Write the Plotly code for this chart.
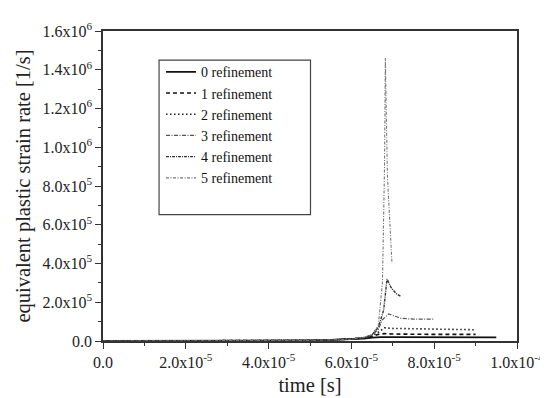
import plotly.graph_objects as go

# ---- data ----
names = ["0 refinement", "1 refinement", "2 refinement", "3 refinement", "4 refinement", "5 refinement"]

t0 = [0.0, 4.0e-5, 4.5e-5, 5.0e-5, 5.5e-5, 6.0e-5, 6.3e-5, 6.5e-5, 6.7e-5, 7.0e-5, 8.0e-5, 9.0e-5, 9.5e-5]
v0 = [0.0, 0.0, 1.0e3, 3.0e3, 5.5e3, 9.0e3, 1.3e4, 1.7e4, 2.0e4, 2.0e4, 1.9e4, 1.9e4, 1.9e4]

t1 = [0.0, 4.0e-5, 4.5e-5, 5.0e-5, 5.5e-5, 6.0e-5, 6.3e-5, 6.5e-5, 6.65e-5, 6.8e-5, 7.0e-5, 8.0e-5, 9.0e-5]
v1 = [0.0, 0.0, 1.0e3, 3.0e3, 5.5e3, 9.5e3, 1.5e4, 2.4e4, 3.4e4, 3.8e4, 3.6e4, 3.4e4, 3.4e4]

t2 = [0.0, 4.0e-5, 4.5e-5, 5.0e-5, 5.5e-5, 6.0e-5, 6.3e-5, 6.5e-5, 6.65e-5, 6.8e-5, 7.0e-5, 8.0e-5, 9.0e-5]
v2 = [0.0, 0.0, 1.0e3, 3.0e3, 5.5e3, 9.5e3, 1.6e4, 2.6e4, 4.5e4, 6.8e4, 6.5e4, 6.0e4, 5.8e4]

t3 = [0.0, 4.0e-5, 4.5e-5, 5.0e-5, 5.5e-5, 6.0e-5, 6.3e-5, 6.5e-5, 6.65e-5, 6.75e-5, 6.9e-5, 7.05e-5, 7.2e-5, 7.5e-5, 8.0e-5]
v3 = [0.0, 0.0, 1.0e3, 3.0e3, 6.0e3, 1.0e4, 1.7e4, 3.0e4, 6.0e4, 1.1e5, 1.4e5, 1.3e5, 1.17e5, 1.13e5, 1.13e5]

t4 = [0.0, 4.0e-5, 4.5e-5, 5.0e-5, 5.5e-5, 6.0e-5, 6.3e-5, 6.5e-5, 6.65e-5, 6.78e-5, 6.86e-5, 6.96e-5, 7.08e-5, 7.2e-5]
v4 = [0.0, 0.0, 1.0e3, 3.0e3, 6.0e3, 1.0e4, 1.8e4, 3.2e4, 7.0e4, 1.6e5, 3.2e5, 2.75e5, 2.45e5, 2.3e5]

t5 = [0.0, 4.0e-5, 4.5e-5, 5.0e-5, 5.5e-5, 6.0e-5, 6.3e-5, 6.5e-5, 6.65e-5, 6.75e-5, 6.8e-5, 6.82e-5, 6.87e-5, 6.91e-5, 6.98e-5]
v5 = [0.0, 0.0, 1.0e3, 3.0e3, 6.0e3, 1.0e4, 1.8e4, 3.3e4, 8.0e4, 3.0e5, 9.0e5, 1.46e6, 8.5e5, 6.8e5, 4.0e5]

x_tickvals = [0.0, 2.0e-5, 4.0e-5, 6.0e-5, 8.0e-5, 1.0e-4]
x_ticktext = ["0.0", "2.0x10<sup>-5</sup>", "4.0x10<sup>-5</sup>", "6.0x10<sup>-5</sup>",
              "8.0x10<sup>-5</sup>", "1.0x10<sup>-4</sup>"]
y_tickvals = [0.0, 2.0e5, 4.0e5, 6.0e5, 8.0e5, 1.0e6, 1.2e6, 1.4e6, 1.6e6]
y_ticktext = ["0.0", "2.0x10<sup>5</sup>", "4.0x10<sup>5</sup>", "6.0x10<sup>5</sup>", "8.0x10<sup>5</sup>",
              "1.0x10<sup>6</sup>", "1.2x10<sup>6</sup>", "1.4x10<sup>6</sup>", "1.6x10<sup>6</sup>"]
x_minor = [1.0e-5, 3.0e-5, 5.0e-5, 7.0e-5, 9.0e-5]
y_minor = [1.0e5, 3.0e5, 5.0e5, 7.0e5, 9.0e5, 1.1e6, 1.3e6, 1.5e6]

series_t = [t0, t1, t2, t3, t4, t5]
series_v = [v0, v1, v2, v3, v4, v5]

styles = [
    dict(color="#111111", width=1.8, dash="solid"),
    dict(color="#111111", width=1.6, dash="4px,3px"),
    dict(color="#222222", width=1.6, dash="1.5px,2.5px"),
    dict(color="#555555", width=1.2, dash="4px,1.5px,1px,1.5px"),
    dict(color="#333333", width=1.4, dash="3px,1px,1px,1px"),
    dict(color="#777777", width=1.1, dash="3px,1.5px,1px,1.5px"),
]

FONT = "Liberation Serif, Times New Roman, serif"

fig = go.Figure()
for n, tt, vv, st in zip(names, series_t, series_v, styles):
    fig.add_trace(go.Scatter(x=tt, y=vv, mode="lines", name=n, line=st))

L, R, T, B = 95, 32, 14, 65
W, H = 548, 398
pw, ph = W - L - R, H - T - B

def px_x(p):
    return (p - L) / pw

def px_y(p):
    return (H - B - p) / ph

fig.update_layout(
    width=W, height=H,
    margin=dict(l=L, r=R, t=T, b=B),
    paper_bgcolor="white", plot_bgcolor="white",
    font=dict(family=FONT, size=16, color="#222222"),
    showlegend=True,
    legend=dict(
        x=px_x(154), y=px_y(40), xanchor="left", yanchor="top",
        bgcolor="rgba(0,0,0,0)", borderwidth=0,
        font=dict(family=FONT, size=14, color="#111111"),
        tracegroupgap=0, itemwidth=30,
    ),
    shapes=[dict(type="rect", xref="paper", yref="paper",
                 x0=px_x(152), x1=px_x(306), y0=px_y(203), y1=px_y(44),
                 line=dict(color="#444444", width=1.2), fillcolor="rgba(0,0,0,0)")],
)

fig.update_xaxes(
    range=[0, 1.0e-4], tickmode="array", tickvals=x_tickvals, ticktext=x_ticktext,
    showgrid=False, zeroline=False, showline=True, linecolor="#333333", linewidth=1.5,
    mirror=True, ticks="outside", ticklen=6, tickwidth=1.3, tickcolor="#333333",
    minor=dict(tickvals=x_minor, ticks="outside", ticklen=3, tickwidth=1.2, tickcolor="#333333"),
    tickfont=dict(family=FONT, size=16),
    title=dict(text="time [s]", font=dict(family=FONT, size=20.5), standoff=8),
)
fig.update_yaxes(
    range=[0, 1.6e6], tickmode="array", tickvals=y_tickvals, ticktext=y_ticktext,
    showgrid=False, zeroline=False, showline=True, linecolor="#333333", linewidth=1.5,
    mirror=True, ticks="outside", ticklen=6, tickwidth=1.3, tickcolor="#333333",
    minor=dict(tickvals=y_minor, ticks="outside", ticklen=3, tickwidth=1.2, tickcolor="#333333"),
    tickfont=dict(family=FONT, size=16),
    title=dict(text="equivalent plastic strain rate [1/s]", font=dict(family=FONT, size=20.5), standoff=6),
)

fig.write_html("out.html")
